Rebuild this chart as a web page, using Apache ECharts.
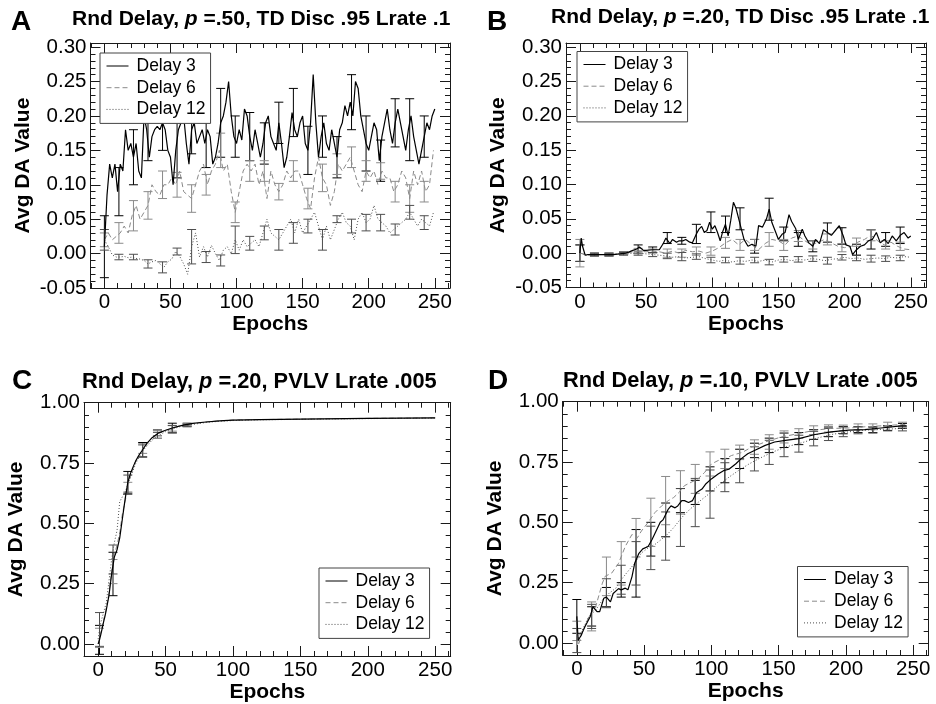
<!DOCTYPE html>
<html><head><meta charset="utf-8">
<script src="https://cdn.jsdelivr.net/npm/echarts@6/dist/echarts.min.js"></script>
<style>html,body{margin:0;padding:0;background:#fff}#c{width:936px;height:704px}</style>
</head><body><div id="c"></div>
<script>
// ---------------- DATA ----------------
const seriesNames = ['Delay 3', 'Delay 6', 'Delay 12'];
const panelLetters = ['A', 'B', 'C', 'D'];
const panelTitles = [
  ['Rnd Delay, ', 'p', ' =.50, TD Disc .95 Lrate .1'],
  ['Rnd Delay, ', 'p', ' =.20, TD Disc .95 Lrate .1'],
  ['Rnd Delay, ', 'p', ' =.20, PVLV Lrate .005'],
  ['Rnd Delay, ', 'p', ' =.10, PVLV Lrate .005']
];
const xAxisName = 'Epochs';
const yAxisName = 'Avg DA Value';
const xMajorTicks = [0, 50, 100, 150, 200, 250];
const xMinorTicks = [-10, 0, 10, 20, 30, 40, 50, 60, 70, 80, 90, 100, 110, 120, 130, 140, 150, 160, 170, 180, 190, 200, 210, 220, 230, 240, 250, 260];
const yMajorTicksTD = [-0.05, 0, 0.05, 0.10, 0.15, 0.20, 0.25, 0.30];
const yMinorTicksTD = [-0.05, -0.04, -0.03, -0.02, -0.01, 0, 0.01, 0.02, 0.03, 0.04, 0.05, 0.06, 0.07, 0.08, 0.09, 0.10, 0.11, 0.12, 0.13, 0.14, 0.15, 0.16, 0.17, 0.18, 0.19, 0.20, 0.21, 0.22, 0.23, 0.24, 0.25, 0.26, 0.27, 0.28, 0.29, 0.30];
const yMajorTicksPVLV = [0, 0.25, 0.50, 0.75, 1.00];
const yMinorTicksPVLV = [-0.05, 0, 0.05, 0.10, 0.15, 0.20, 0.25, 0.30, 0.35, 0.40, 0.45, 0.50, 0.55, 0.60, 0.65, 0.70, 0.75, 0.80, 0.85, 0.90, 0.95, 1.00];

// Panel A
const epochsA3 = [0,2,4,6,8,10,12,14,16,18,20,22,24,26,28,30,32,34,36,38,40,42,44,46,48,50,52,54,56,58,60,62,64,66,68,70,72,74,76,78,80,82,84,86,88,90,92,94,96,98,100,102,104,106,108,110,112,114,116,118,120,122,124,126,128,130,132,134,136,138,140,142,144,146,148,150,152,154,156,158,160,162,164,166,168,170,172,174,176,178,180,182,184,186,188,190,192,194,196,198,200,202,204,206,208,210,212,214,216,218,220,222,224,226,228,230,232,234,236,238,240,242,244,246,248,250];
const valuesA3 = [
  0.01,0.085,0.13,0.11,0.13,0.09,0.13,0.12,0.18,0.15,
  0.16,0.14,0.16,0.12,0.11,0.20,0.18,0.14,0.17,0.18,
  0.185,0.18,0.19,0.18,0.15,0.14,0.10,0.15,0.18,0.19,
  0.20,0.16,0.13,0.18,0.19,0.16,0.17,0.18,0.16,0.18,
  0.17,0.13,0.14,0.16,0.19,0.20,0.22,0.25,0.20,0.17,
  0.16,0.18,0.165,0.21,0.20,0.17,0.15,0.18,0.16,0.14,
  0.16,0.19,0.20,0.17,0.16,0.15,0.19,0.16,0.125,0.14,
  0.17,0.205,0.18,0.17,0.19,0.20,0.16,0.15,0.19,0.26,
  0.19,0.14,0.17,0.19,0.16,0.15,0.18,0.16,0.14,0.18,
  0.19,0.215,0.20,0.22,0.20,0.25,0.24,0.20,0.18,0.16,
  0.15,0.17,0.19,0.18,0.135,0.17,0.19,0.21,0.18,0.16,
  0.19,0.21,0.19,0.17,0.15,0.18,0.20,0.17,0.15,0.13,
  0.15,0.17,0.19,0.18,0.20,0.21];
const epochsStep3 = [0,3,6,9,12,15,18,21,24,27,30,33,36,39,42,45,48,51,54,57,60,63,66,69,72,75,78,81,84,87,90,93,96,99,102,105,108,111,114,117,120,123,126,129,132,135,138,141,144,147,150,153,156,159,162,165,168,171,174,177,180,183,186,189,192,195,198,201,204,207,210,213,216,219,222,225,228,231,234,237,240,243,246,249];
const valuesA6 = [
  0.02,0.03,0.02,0.025,0.03,0.04,0.03,0.055,0.07,0.05,
  0.06,0.07,0.10,0.09,0.085,0.10,0.10,0.11,0.10,0.12,
  0.09,0.085,0.08,0.10,0.12,0.13,0.10,0.12,0.13,0.15,
  0.12,0.13,0.09,0.06,0.09,0.12,0.13,0.12,0.13,0.10,
  0.12,0.08,0.12,0.10,0.09,0.10,0.12,0.11,0.12,0.12,
  0.10,0.08,0.065,0.11,0.14,0.11,0.10,0.07,0.09,0.13,
  0.12,0.13,0.14,0.12,0.10,0.09,0.12,0.11,0.12,0.10,
  0.12,0.11,0.11,0.09,0.10,0.12,0.11,0.08,0.12,0.10,
  0.12,0.09,0.10,0.15];
const valuesA12 = [
  0.02,0.01,-0.002,-0.005,-0.005,-0.004,-0.006,-0.005,-0.007,-0.008,
  -0.01,-0.015,-0.012,-0.01,-0.015,-0.02,-0.012,-0.008,0.003,-0.004,
  -0.015,-0.03,0.01,0.03,-0.005,0.01,-0.005,0.012,0.0,-0.01,
  0.005,0.01,0.0,0.02,0.005,0.02,0.01,0.015,0.02,0.01,
  0.03,0.05,0.03,0.025,0.02,0.03,0.04,0.05,0.03,0.05,
  0.03,0.04,0.05,0.06,0.04,0.02,0.04,0.02,0.035,0.05,
  0.06,0.045,0.04,0.02,0.05,0.06,0.045,0.05,0.07,0.05,
  0.045,0.04,0.03,0.035,0.04,0.045,0.05,0.06,0.05,0.04,
  0.05,0.045,0.04,0.06];

// Panel B
const epochsB3 = [0,1,2,4,6,10,15,20,25,30,35,40,43,45,48,50,55,60,63,65,68,70,73,75,78,80,83,85,88,90,92,94,96,98,100,102,104,106,108,110,112,114,116,118,120,122,124,127,130,133,135,138,141,143,145,148,150,153,155,158,160,163,165,168,170,173,176,178,181,184,187,190,193,196,199,201,204,206,209,212,215,218,221,224,227,230,233,236,239,242,245,248,250];
const valuesB3 = [
  0.0,0.022,0.01,-0.003,-0.002,-0.002,-0.002,-0.002,-0.002,-0.001,
  0.0,0.004,0.006,0.009,0.004,0.004,0.005,0.005,0.014,0.022,
  0.014,0.02,0.016,0.018,0.018,0.02,0.016,0.015,0.028,0.035,
  0.039,0.03,0.033,0.045,0.035,0.04,0.03,0.018,0.032,0.042,
  0.025,0.048,0.074,0.065,0.05,0.035,0.02,0.01,0.013,0.01,
  0.04,0.038,0.05,0.064,0.045,0.03,0.02,0.028,0.03,0.056,
  0.046,0.036,0.02,0.035,0.025,0.015,0.01,0.02,0.014,0.034,
  0.03,0.026,0.033,0.04,0.025,0.012,0.01,-0.002,0.005,0.01,
  0.012,0.018,0.02,0.03,0.015,0.02,0.014,0.025,0.018,0.026,
  0.03,0.022,0.025];
const epochsStep5 = [0,5,10,15,20,25,30,35,40,45,50,55,60,65,70,75,80,85,90,95,100,105,110,115,120,125,130,135,140,145,150,155,160,165,170,175,180,185,190,195,200,205,210,215,220,225,230,235,240,245,250];
const valuesB6 = [
  0.0,-0.002,-0.002,-0.002,-0.002,-0.002,-0.001,0.0,0.002,0.003,
  0.002,0.003,0.002,0.0,0.003,0.0,0.004,0.002,0.003,0.0,
  0.003,0.008,0.015,0.02,0.012,0.02,0.012,0.005,0.014,0.02,
  0.018,0.012,0.022,0.025,0.018,0.012,0.016,0.02,0.015,0.01,
  0.008,0.01,0.016,0.02,0.026,0.018,0.012,0.016,0.01,0.006,
  0.005];
const valuesB12 = [
  0.0,-0.003,-0.002,-0.002,-0.002,-0.002,-0.001,-0.001,0.0,0.0,
  -0.001,-0.002,-0.003,-0.004,-0.006,-0.005,-0.007,-0.006,-0.005,-0.008,
  -0.01,-0.012,-0.01,-0.013,-0.011,-0.012,-0.01,-0.012,-0.01,-0.013,
  -0.01,-0.009,-0.011,-0.009,-0.01,-0.008,-0.009,-0.011,-0.009,-0.008,
  -0.006,-0.008,-0.007,-0.009,-0.008,-0.007,-0.008,-0.006,-0.007,-0.005,
  -0.006];

// Panel C
const epochsC = [0,1,2,3,4,5,6,8,10,12,14,16,18,20,22,24,26,28,30,33,36,40,45,50,55,60,65,70,80,90,100,120,150,200,250];
const valuesC3 = [0.0,0.017,0.04,0.065,0.09,0.113,0.14,0.2,0.29,0.36,0.39,0.44,0.52,0.6,0.67,0.707,0.735,0.76,0.78,0.805,0.83,0.855,0.875,0.886,0.895,0.903,0.909,0.914,0.92,0.925,0.928,0.93,0.932,0.935,0.937];
const valuesC6 = [0.0,0.025,0.05,0.075,0.1,0.12,0.15,0.21,0.3,0.37,0.41,0.46,0.54,0.59,0.65,0.7,0.73,0.76,0.78,0.81,0.83,0.855,0.874,0.885,0.894,0.902,0.908,0.913,0.92,0.925,0.928,0.93,0.932,0.935,0.937];
const valuesC12 = [0.02,0.06,0.09,0.11,0.13,0.15,0.17,0.26,0.35,0.42,0.47,0.59,0.61,0.63,0.66,0.69,0.72,0.75,0.77,0.8,0.82,0.845,0.865,0.88,0.89,0.9,0.905,0.91,0.918,0.923,0.926,0.929,0.931,0.934,0.936];

// Panel D
const epochsD3 = [0,1,3,6,10,12,15,17,20,22,25,27,31,33,36,38,41,43,46,49,53,56,59,62,64,68,70,73,75,78,80,83,86,89,93,96,100,105,109,113,118,122,127,132,140,147,155,165,177,189,202,214,226,241,245];
const valuesD3 = [0.11,0.01,0.03,0.067,0.11,0.15,0.13,0.13,0.185,0.19,0.17,0.205,0.225,0.22,0.227,0.22,0.275,0.33,0.37,0.39,0.40,0.43,0.465,0.50,0.51,0.555,0.568,0.56,0.568,0.59,0.59,0.582,0.59,0.624,0.638,0.66,0.68,0.70,0.714,0.72,0.742,0.763,0.784,0.798,0.819,0.833,0.84,0.847,0.864,0.875,0.882,0.884,0.891,0.90,0.90];
const epochsD6 = [0,1,4,9,14,19,21,26,31,36,41,45,48,53,58,63,68,72,76,80,85,90,95,100,105,110,115,123,130,140,152,165,177,189,202,214,241,245];
const valuesD6 = [0.05,-0.01,0.04,0.11,0.15,0.248,0.276,0.29,0.33,0.40,0.45,0.436,0.464,0.50,0.54,0.568,0.59,0.603,0.624,0.652,0.666,0.68,0.707,0.742,0.756,0.763,0.777,0.79,0.812,0.833,0.854,0.868,0.882,0.889,0.891,0.896,0.905,0.905];
const epochsD12 = [0,4,9,14,19,24,29,33,38,43,48,53,58,66,72,78,84,90,98,105,113,120,128,135,145,155,165,177,189,202,214,241,245];
const valuesD12 = [0.01,0.053,0.11,0.136,0.178,0.206,0.227,0.262,0.297,0.33,0.373,0.394,0.408,0.443,0.478,0.52,0.554,0.582,0.617,0.652,0.687,0.714,0.742,0.763,0.79,0.812,0.826,0.847,0.864,0.875,0.882,0.889,0.889];

// Error bars (half widths) at these epochs
const errEpochs = [0,11,22,33,44,55,66,77,88,99,110,121,132,143,154,165,176,187,198,209,220,231,242];
const errA3 = [0.045,0.035,0.04,0.045,0.04,0.04,0.035,0.035,0.05,0.03,0.035,0.03,0.03,0.035,0.035,0.03,0.03,0.04,0.04,0.03,0.035,0.045,0.03];
const errA6 = [0.01,0.015,0.022,0.02,0.02,0.018,0.02,0.015,0.025,0.015,0.015,0.015,0.012,0.015,0.015,0.02,0.015,0.015,0.015,0.012,0.015,0.02,0.015];
const errA12 = [0.015,0.004,0.004,0.006,0.008,0.005,0.025,0.008,0.008,0.02,0.01,0.01,0.015,0.015,0.01,0.015,0.005,0.01,0.012,0.012,0.008,0.01,0.01];
const errB3 = [0.012,0.002,0.002,0.002,0.006,0.004,0.008,0.005,0.014,0.015,0.012,0.016,0.01,0.016,0.01,0.01,0.008,0.014,0.012,0.008,0.014,0.01,0.012];
const errB6 = [0.02,0.002,0.002,0.002,0.004,0.003,0.006,0.006,0.006,0.006,0.008,0.008,0.008,0.01,0.008,0.008,0.006,0.008,0.006,0.006,0.008,0.006,0.006];
const errB12 = [0.012,0.002,0.002,0.002,0.003,0.003,0.004,0.006,0.004,0.004,0.004,0.005,0.004,0.004,0.004,0.004,0.004,0.005,0.004,0.004,0.005,0.004,0.004];
const errEpochsC = [1,11,22,33,44,55,66];
const errC3 = [0.06,0.09,0.045,0.03,0.012,0.02,0.006];
const errC6 = [0.04,0.05,0.02,0.02,0.01,0.012,0.005];
const errC12 = [0.07,0.06,0.04,0.025,0.012,0.015,0.005];
const errD3 = [0.07,0.04,0.04,0.03,0.14,0.07,0.07,0.05,0.05,0.05,0.05,0.04,0.03,0.03,0.03,0.025,0.02,0.02,0.015,0.012,0.012,0.01,0.01];
const errD6 = [0.04,0.06,0.08,0.09,0.08,0.1,0.1,0.09,0.06,0.05,0.04,0.03,0.03,0.03,0.025,0.02,0.018,0.015,0.012,0.012,0.012,0.01,0.01];
const errD12 = [0.05,0.05,0.06,0.06,0.09,0.09,0.1,0.12,0.1,0.1,0.06,0.05,0.05,0.05,0.04,0.035,0.03,0.025,0.02,0.015,0.012,0.01,0.01];

// ---------------- LAYOUT / STYLE ----------------
const FONT = 'Liberation Sans';
const colors = ['#000000', '#8a8a8a', '#4d4d4d'];
const dashes = ['solid', [5, 3], [1, 2]];
const widths = [1.2, 1, 1];
const layout = [
  {grid: {left: 90.5, top: 43, width: 359.5, height: 245}, y: [-0.05, 0.306], yMaj: yMajorTicksTD, yMin: yMinorTicksTD,
   title: {left: 72, top: 7, size: 21}, letter: {x: 11, y: 8}, legend: {left: 100, top: 53}},
  {grid: {left: 566, top: 43, width: 360, height: 244.5}, y: [-0.05, 0.306], yMaj: yMajorTicksTD, yMin: yMinorTicksTD,
   title: {left: 551, top: 5, size: 21}, letter: {x: 487, y: 8}, legend: {left: 577, top: 51.5}},
  {grid: {left: 84, top: 402.7, width: 366.7, height: 253.3}, y: [-0.05, 1.0], yMaj: yMajorTicksPVLV, yMin: yMinorTicksPVLV,
   title: {left: 82, top: 369.5, size: 21.8}, letter: {x: 12, y: 367}, legend: {left: 319, top: 568}},
  {grid: {left: 562.7, top: 401.7, width: 366, height: 253.3}, y: [-0.05, 1.0], yMaj: yMajorTicksPVLV, yMin: yMinorTicksPVLV,
   title: {left: 563, top: 368.5, size: 21.8}, letter: {x: 488, y: 367}, legend: {left: 797.5, top: 566.5}}
];
const xRange = [-10.5, 261.5];

const lines = [
  [[epochsA3, valuesA3], [epochsStep3, valuesA6], [epochsStep3, valuesA12]],
  [[epochsB3, valuesB3], [epochsStep5, valuesB6], [epochsStep5, valuesB12]],
  [[epochsC, valuesC3], [epochsC, valuesC6], [epochsC, valuesC12]],
  [[epochsD3, valuesD3], [epochsD6, valuesD6], [epochsD12, valuesD12]]
];
const errs = [
  [errEpochs, [errA3, errA6, errA12]],
  [errEpochs, [errB3, errB6, errB12]],
  [errEpochsC, [errC3, errC6, errC12]],
  [errEpochs, [errD3, errD6, errD12]]
];

function nearest(xs, ys, e) {
  let bi = 0;
  for (let i = 1; i < xs.length; i++) if (Math.abs(xs[i] - e) < Math.abs(xs[bi] - e)) bi = i;
  return ys[bi];
}

const axLine = {color: '#1a1a1a', width: 1};
function makeAxes(gi, dim, min, max, major, minor, fmt, name, nameGap) {
  const sides = dim === 'x' ? ['bottom', 'top'] : ['left', 'right'];
  const out = [];
  sides.forEach((pos, si) => {
    [[major, 10], [minor, 5]].forEach(([vals, len], ti) => {
      const main = si === 0 && ti === 0;
      out.push({
        type: 'value', gridIndex: gi, position: pos, min: min, max: max,
        axisLine: {show: ti === 0, onZero: false, lineStyle: axLine},
        axisTick: {show: true, inside: true, length: len, customValues: vals, lineStyle: axLine},
        minorTick: {show: false},
        splitLine: {show: false},
        axisLabel: main ? {show: true, customValues: major, formatter: fmt, margin: 4,
          fontFamily: FONT, fontSize: 20.5, color: '#000'} : {show: false},
        name: main ? name : '',
        nameLocation: 'middle', nameGap: nameGap,
        nameTextStyle: {fontFamily: FONT, fontSize: 21, fontWeight: 'bold', color: '#000'}
      });
    });
  });
  return out;
}

const grids = [], xAxes = [], yAxes = [], series = [], titles = [], legends = [], graphics = [];
layout.forEach((L, gi) => {
  grids.push(Object.assign({containLabel: false}, L.grid));
  xAxes.push(...makeAxes(gi, 'x', xRange[0], xRange[1], xMajorTicks, xMinorTicks, v => String(Math.round(v)), xAxisName, 24));
  yAxes.push(...makeAxes(gi, 'y', L.y[0], L.y[1], L.yMaj, L.yMin, v => v.toFixed(2), yAxisName, 57));
  const t = panelTitles[gi];
  const rs = {fontFamily: FONT, fontWeight: 'bold', fontSize: L.title.size, color: '#000', lineHeight: 24};
  titles.push({
    left: L.title.left, top: L.title.top, padding: 0,
    text: '{b|' + t[0] + '}{i|' + t[1] + '}{b|' + t[2] + '}',
    textStyle: {rich: {b: rs, i: Object.assign({}, rs, {fontStyle: 'italic'})}}
  });
  graphics.push({type: 'text', x: L.letter.x, y: L.letter.y,
    style: {text: panelLetters[gi], font: 'bold 28px "' + FONT + '"', fill: '#000'}});
  legends.push({
    left: L.legend.left, top: L.legend.top, orient: 'vertical', data: seriesNames,
    selectedMode: false, itemWidth: 22, itemHeight: 10, itemGap: 1.7,
    itemStyle: {opacity: 0, borderWidth: 0},
    lineStyle: {width: 1},
    padding: [3, 5, 4, 6], borderColor: '#444', borderWidth: 1, backgroundColor: '#fff',
    textStyle: {fontFamily: FONT, fontSize: 17.5, lineHeight: 20, color: '#000', padding: [0, 0, 0, 3]}
  });
  lines[gi].forEach(([xs, ys], si) => {
    series.push({
      type: 'line', name: seriesNames[si], xAxisIndex: gi * 4, yAxisIndex: gi * 4,
      data: xs.map((x, i) => [x, ys[i]]), symbol: 'none', showSymbol: false,
      lineStyle: {color: colors[si], width: widths[si], type: dashes[si]},
      itemStyle: {color: colors[si]}, clip: true, animation: false, z: 3 - si
    });
  });
  const [eEp, eList] = errs[gi];
  eList.forEach((ev, si) => {
    const [xs, ys] = lines[gi][si];
    const col = colors[si];
    series.push({
      type: 'custom', name: seriesNames[si] + ' err', xAxisIndex: gi * 4, yAxisIndex: gi * 4,
      clip: true, animation: false, silent: true, z: 2,
      data: eEp.map((e, i) => { const c = nearest(xs, ys, e); return [e, c - ev[i], c + ev[i]]; }),
      encode: {x: 0, y: [1, 2]},
      renderItem: (params, api) => {
        const a = api.coord([api.value(0), api.value(1)]);
        const b = api.coord([api.value(0), api.value(2)]);
        const w = 4.5;
        const st = {stroke: col, lineWidth: 1, fill: null};
        return {type: 'group', children: [
          {type: 'line', shape: {x1: a[0], y1: a[1], x2: b[0], y2: b[1]}, style: st},
          {type: 'line', shape: {x1: a[0] - w, y1: a[1], x2: a[0] + w, y2: a[1]}, style: st},
          {type: 'line', shape: {x1: b[0] - w, y1: b[1], x2: b[0] + w, y2: b[1]}, style: st}
        ]};
      }
    });
  });
});

const chart = echarts.init(document.getElementById('c'), null, {renderer: 'canvas'});
chart.setOption({
  backgroundColor: '#fff', animation: false,
  title: titles, legend: legends, grid: grids, xAxis: xAxes, yAxis: yAxes,
  series: series, graphic: graphics
});
</script>
</body></html>
